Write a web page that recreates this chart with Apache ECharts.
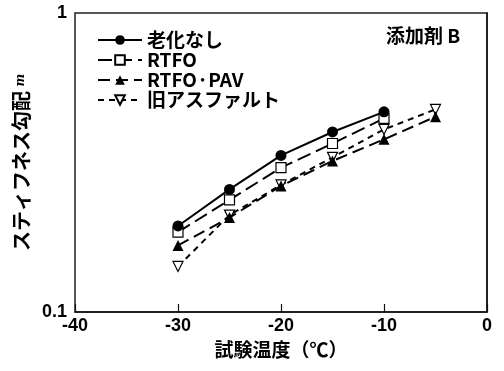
<!DOCTYPE html>
<html><head><meta charset="utf-8">
<script src="https://cdn.jsdelivr.net/npm/echarts@6/dist/echarts.min.js"></script>
<style>html,body{margin:0;padding:0;background:#fff}#c{width:504px;height:371px}</style>
</head><body><div id="c"></div>
<script>
const temps = [-30, -25, -20, -15, -10, -5];
const noAging = [0.194, 0.257, 0.334, 0.400, 0.467];
const rtfo = [0.185, 0.237, 0.304, 0.366, 0.444];
const rtfoPav = [0.167, 0.207, 0.264, 0.320, 0.378, 0.450];
const oldAsphalt = [0.142, 0.211, 0.266, 0.329, 0.408, 0.476];
const names = ['老化なし', 'RTFO', 'RTFO·PAV', '旧アスファルト'];
const xTicks = [-40, -30, -20, -10, 0];

const pairs = v => v.map((y, i) => [temps[i], y]);
const FONT = "'Liberation Sans', 'Noto Sans CJK JP', sans-serif";
const JFONT = "'Noto Sans CJK JP', sans-serif";

const chart = echarts.init(document.getElementById('c'));
chart.setOption({
  animation: false,
  grid: { left: 75, right: 17, top: 13, bottom: 59, show: true, borderColor: '#222', borderWidth: 1.5, backgroundColor: 'transparent' },
  xAxis: {
    type: 'value', min: xTicks[0], max: xTicks[xTicks.length - 1], interval: 10,
    axisLine: { show: true, lineStyle: { color: '#111', width: 1.5 } },
    axisTick: { show: true, inside: true, length: 8, lineStyle: { color: '#111', width: 1.2 } },
    splitLine: { show: false },
    axisLabel: { color: '#000', fontSize: 18, fontWeight: 'bold', fontFamily: FONT, margin: 5 },
    name: '試験温度（℃）', nameLocation: 'middle', nameGap: 27,
    nameTextStyle: { color: '#000', fontSize: 19, fontWeight: 'bold', fontFamily: JFONT }
  },
  yAxis: {
    type: 'log', logBase: 10, min: 0.1, max: 1,
    axisLine: { show: true, lineStyle: { color: '#111', width: 1.5 } },
    axisTick: { show: false },
    minorTick: { show: false },
    splitLine: { show: false },
    axisLabel: { color: '#000', fontSize: 18, fontWeight: 'bold', fontFamily: FONT, margin: 8,
      formatter: v => (Math.abs(v - 1) < 1e-9 ? '1' : (Math.abs(v - 0.1) < 1e-9 ? '0.1' : '')) },
    name: '{a|スティフネス勾配 }{m|m}', nameLocation: 'middle', nameGap: 40, nameRotate: 90,
    nameTextStyle: { rich: {
      a: { color: '#000', fontSize: 20, fontWeight: 'bold', fontFamily: JFONT },
      m: { color: '#000', fontSize: 12, fontStyle: 'italic', fontWeight: 'bold', fontFamily: 'DejaVu Serif' }
    } }
  },
  legend: {
    orient: 'vertical', left: 92, top: 25, itemGap: 0, itemWidth: 44, itemHeight: 12,
    data: names,
    textStyle: { color: '#000', fontSize: 19, lineHeight: 20, fontWeight: 'bold', fontFamily: "'Liberation Sans Narrow', 'Noto Sans CJK JP', sans-serif" }
  },
  graphic: [{
    type: 'text', left: 386, top: 26,
    style: { text: '添加剤 B', fill: '#000', font: "bold 19px 'Noto Sans CJK JP', sans-serif" }
  }],
  series: [
    { name: names[0], type: 'line', data: pairs(noAging), symbol: 'circle', symbolSize: 11,
      itemStyle: { color: '#000' }, lineStyle: { color: '#000', width: 2 }, z: 5 },
    { name: names[1], type: 'line', data: pairs(rtfo), symbol: 'rect', symbolSize: 10,
      itemStyle: { color: '#fff', borderColor: '#000', borderWidth: 1.2 },
      lineStyle: { color: '#000', width: 2, type: [14, 6] }, z: 4 },
    { name: names[2], type: 'line', data: pairs(rtfoPav), symbol: 'triangle', symbolSize: 11,
      itemStyle: { color: '#000' }, lineStyle: { color: '#000', width: 2, type: [12, 6] }, z: 3 },
    { name: names[3], type: 'line', data: pairs(oldAsphalt), symbol: 'triangle', symbolRotate: 180, symbolSize: 10,
      itemStyle: { color: '#fff', borderColor: '#000', borderWidth: 1.2 },
      lineStyle: { color: '#000', width: 2, type: [6, 5] }, z: 2 }
  ]
});
</script></body></html>
